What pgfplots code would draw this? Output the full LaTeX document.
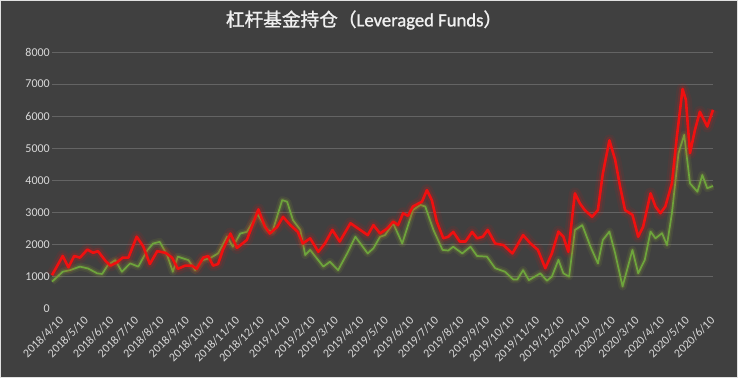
\documentclass[border=0pt]{standalone}
\usepackage{fontspec}
\setmainfont{Carlito}
\newfontfamily\cjk[AutoFakeBold=1.2]{Noto Sans CJK SC}
\newfontfamily\latt[AutoFakeBold=1.2]{Carlito}
\usepackage{pgfplots}
\usepackage{pgfplotstable}
\pgfplotsset{compat=1.18}
\definecolor{bg}{RGB}{64,64,64}
\definecolor{gridc}{RGB}{100,100,100}
\definecolor{txt}{RGB}{217,217,217}
\definecolor{redl}{RGB}{240,16,16}
\definecolor{greenl}{RGB}{110,165,60}
\definecolor{glowg}{RGB}{150,175,50}

\pgfplotstableread{
day val
0 1050
13 1650
20 1300
27 1650
34 1600
43 1850
50 1750
56 1800
65 1500
71 1350
79 1450
86 1600
93 1600
103 2250
111 1950
119 1400
128 1800
138 1750
146 1600
153 1250
162 1350
170 1350
176 1250
184 1600
190 1650
196 1350
202 1400
208 1850
217 2350
225 1900
237 2150
251 3100
259 2560
265 2350
274 2560
281 2870
290 2610
299 2400
305 2040
314 2200
324 1780
332 2040
341 2460
350 2100
363 2670
375 2460
384 2300
391 2610
399 2350
408 2510
415 2720
421 2610
427 2980
433 2900
439 3190
450 3340
456 3700
462 3390
468 2720
476 2200
482 2250
488 2400
496 2100
503 2100
511 2400
517 2200
524 2250
530 2460
539 2040
549 1990
560 1730
573 2300
582 2040
591 1840
600 1270
608 1730
616 2410
622 2250
628 1780
636 3600
642 3290
648 3080
657 2870
664 3080
670 4220
678 5250
685 4640
691 3810
697 3080
706 2930
713 2250
719 2560
728 3600
734 3190
740 2980
746 3190
754 3910
760 5360
767 6850
771 6510
776 4850
782 5570
788 6140
797 5680
804 6200
}\redtab

\pgfplotstableread{
day val
0 850
13 1160
22 1210
34 1320
44 1260
55 1110
61 1090
68 1370
77 1520
85 1160
95 1420
105 1320
116 1830
123 2040
131 2090
140 1680
147 1160
153 1630
166 1520
174 1210
183 1520
192 1580
202 1730
213 2250
220 1940
229 2350
237 2400
250 2950
262 2460
268 2400
280 3390
286 3340
293 2770
302 2460
308 1680
314 1840
330 1320
338 1470
348 1210
359 1730
369 2250
384 1730
391 1890
399 2250
405 2300
415 2670
426 2040
439 3080
448 3240
454 3190
464 2460
475 1840
482 1820
488 1940
499 1730
509 1940
517 1650
529 1630
539 1270
551 1160
561 920
566 920
573 1210
580 900
594 1110
602 880
608 1010
616 1530
622 1110
629 1010
636 2460
645 2610
655 1940
664 1420
670 2150
678 2410
685 1730
694 700
706 1840
713 1110
721 1530
728 2410
734 2200
742 2360
748 1990
754 2980
762 4850
769 5420
776 3910
785 3650
791 4170
797 3760
804 3830
}\greentab

\begin{document}
\begin{tikzpicture}[x=1pt,y=1pt]
\useasboundingbox (0,0) rectangle (738,378);
\fill[bg] (0,0) rectangle (738,378);
\draw[txt!80!white, line width=1pt] (0.5,0.5) rectangle (737.5,377.5);
\node[text=white!94!black, font=\fontsize{18.67}{22}\selectfont\bfseries] at (364,358)
  {\cjk 杠杆基金持仓（\latt Leveraged Funds\cjk ）};
\begin{axis}[
  at={(52pt,69pt)}, anchor=origin,
  scale only axis, width=661pt, height=257pt,
  xmin=0, xmax=804, ymin=0, ymax=8000,
  axis line style={draw=none},
  tick style={draw=none},
  ytick={1000,2000,...,8000},
  extra y ticks={0},
  extra y tick style={ymajorgrids=false},
  ymajorgrids,
  grid style={gridc, line width=0.9pt},
  scaled y ticks=false,
  /pgf/number format/assume math mode=true,
  /pgf/number format/set thousands separator={},
  ticklabel style={text=txt, font=\fontsize{12}{14}\selectfont},
  yticklabel style={inner sep=0pt, xshift=-2pt},
  xtick={0,30,61,91,122,153,183,214,244,275,306,334,365,395,426,456,487,518,548,579,609,640,671,700,731,761,792},
  xticklabels={2018/4/10,2018/5/10,2018/6/10,2018/7/10,2018/8/10,2018/9/10,2018/10/10,2018/11/10,2018/12/10,2019/1/10,2019/2/10,2019/3/10,2019/4/10,2019/5/10,2019/6/10,2019/7/10,2019/8/10,2019/9/10,2019/10/10,2019/11/10,2019/12/10,2020/1/10,2020/2/10,2020/3/10,2020/4/10,2020/5/10,2020/6/10},
  xticklabel style={rotate=45, anchor=north east, inner sep=0pt, yshift=-9pt},
  clip=false,
]
\addplot[glowg, opacity=0.10, line width=8pt, line join=round] table[x=day,y=val] {\greentab};
\addplot[glowg, opacity=0.16, line width=4.5pt, line join=round] table[x=day,y=val] {\greentab};
\addplot[greenl, line width=1.7pt, line join=round] table[x=day,y=val] {\greentab};
\addplot[redl, opacity=0.08, line width=12pt, line join=round] table[x=day,y=val] {\redtab};
\addplot[redl, opacity=0.16, line width=7pt, line join=round] table[x=day,y=val] {\redtab};
\addplot[redl, line width=2.6pt, line join=round] table[x=day,y=val] {\redtab};
\end{axis}
\end{tikzpicture}
\end{document}
